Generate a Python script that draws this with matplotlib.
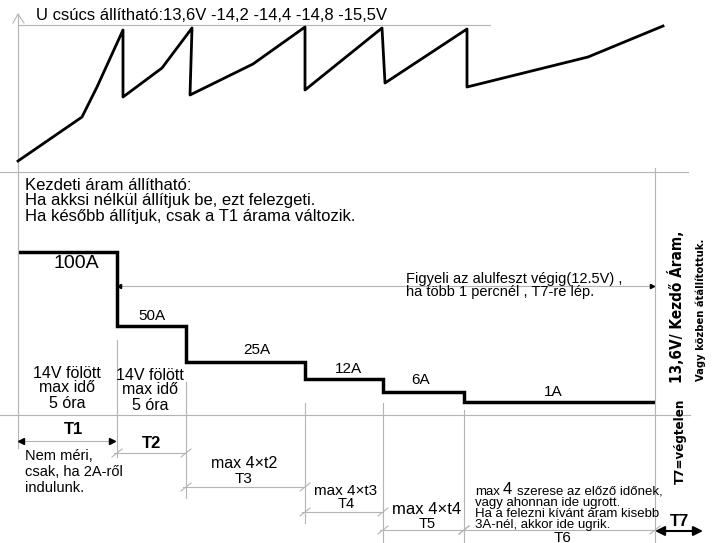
import matplotlib.pyplot as plt

plt.rcParams['font.family'] = ['Liberation Sans', 'DejaVu Sans']

# charging voltage curve (x = time position, y = drawing height, top = 0)
u_x = [18, 82, 97, 123, 123, 162, 192, 190, 253, 305, 305, 382, 385, 467, 467, 588, 663]
u_y = [161, 117, 87, 30, 97, 68, 28, 95, 64, 27, 90, 28, 83, 29, 87, 57, 26]

# current steps
t_edges = [18, 117, 186, 305, 383, 464, 655]
i_level = [252, 326, 362, 379, 392, 402]
i_labels = ['100A', '50A', '25A', '12A', '6A', '1A']
i_label_size = [14, 11, 11, 11, 11, 11]

# phase dimension lines
dim_y = [441, 453, 487, 512, 530, 530]
dim_names = ['T1', 'T2', 'T3', 'T4', 'T5', 'T6']
dim_notes = ['', '', 'max 4×t2', 'max 4×t3', 'max 4×t4', '']

gray = '#b4b4b4'


def lines(x, ys, texts, **kw):
    for y, s in zip(ys, texts):
        ax.text(x, y, s, va='center', **kw)


fig = plt.figure(figsize=(7.15, 5.43), dpi=100)
ax = fig.add_axes([0, 0, 1, 1])
ax.set_xlim(0, 715)
ax.set_ylim(543, 0)
ax.axis('off')

# frame lines
ax.plot([18, 18], [14, 448], color=gray, lw=0.8)
ax.plot([13, 18, 24], [23, 14, 23], color=gray, lw=0.8)
ax.plot([18, 490], [25, 25], color=gray, lw=0.8)
ax.plot([0, 688], [172, 172], color=gray, lw=0.8)
ax.plot([0, 690], [415, 415], color=gray, lw=0.8)
ax.plot([655, 655], [168, 543], color=gray, lw=0.8)

# phase separators
sep_top = [340, 382, 403, 403, 410]
sep_bot = [457, 498, 523, 543, 543]
for x, a, b in zip(t_edges[1:6], sep_top, sep_bot):
    ax.plot([x, x], [a, b], color=gray, lw=0.8)

# voltage
ax.plot(u_x, u_y, color='black', lw=2)
ax.text(36, 16, 'U csúcs állítható:13,6V -14,2 -14,4 -14,8 -15,5V', fontsize=12, va='center')

# current
ax.stairs(i_level, t_edges, baseline=None, color='black', lw=2.5)
lab_x = [76, 152, 257, 348, 421, 553]
lab_y = [264, 316, 350, 369, 380, 392]
for x, y, s, fs in zip(lab_x, lab_y, i_labels, i_label_size):
    ax.text(x, y, s, fontsize=fs, ha='center', va='center')

lines(25, [185, 201, 217], ['Kezdeti áram állítható:',
                            'Ha akksi nélkül állítjuk be, ezt felezgeti.',
                            'Ha később állítjuk, csak a T1 árama változik.'], fontsize=12)

ax.plot([119, 652], [286, 286], color=gray, lw=0.8)
ax.plot([119], [286], marker='<', color='black', ms=3)
ax.plot([652], [286], marker='>', color='black', ms=3)
lines(406, [279, 292], ['Figyeli az alulfeszt végig(12.5V) ,',
                        'ha több 1 percnél , T7-re lép.'], fontsize=10.5)

col_txt = ['14V fölött', 'max idő', '5 óra']
lines(67, [373, 388, 403], col_txt, fontsize=11.5, ha='center')
lines(150, [376, 390, 405], col_txt, fontsize=11.5, ha='center')

# T1 arrow
ax.plot([22, 111], [dim_y[0]] * 2, color=gray, lw=0.8)
ax.plot([21], [dim_y[0]], marker='<', color='black', ms=4)
ax.plot([112], [dim_y[0]], marker='>', color='black', ms=4)
ax.text(74, 430, dim_names[0], fontsize=12, fontweight='bold', ha='center', va='center')
lines(25, [456, 472, 488], ['Nem méri,', 'csak, ha 2A-ről', 'indulunk.'], fontsize=10.5)

# T2..T6 dimension lines with slash ticks
for k in range(1, 6):
    a, b, y = t_edges[k], t_edges[k + 1], dim_y[k]
    ax.plot([a - 3, b], [y, y], color=gray, lw=0.8)
    for x in (a, b):
        ax.plot([x - 5, x + 5], [y + 4, y - 4], color=gray, lw=0.8)

ax.text(152, 443, 'T2', fontsize=12, fontweight='bold', ha='center', va='center')
ax.text(244, 464, dim_notes[2], fontsize=11.5, ha='center', va='center')
ax.text(244, 479, dim_names[2], fontsize=11, ha='center', va='center')
ax.text(346, 491, dim_notes[3], fontsize=11, ha='center', va='center')
ax.text(346, 504, dim_names[3], fontsize=10.5, ha='center', va='center')
ax.text(427, 510, dim_notes[4], fontsize=12, ha='center', va='center')
ax.text(427, 524, dim_names[4], fontsize=10.5, ha='center', va='center')
ax.text(563, 538, dim_names[5], fontsize=11, ha='center', va='center')

ax.text(475, 492, 'max', fontsize=9.5, va='center')
ax.text(503, 490, '4', fontsize=12, va='center')
ax.text(517, 492, 'szerese az előző időnek,', fontsize=9.5, va='center')
lines(475, [503, 514, 525], ['vagy ahonnan ide ugrott.',
                             'Ha a felezni kívánt áram kisebb',
                             '3A-nél, akkor ide ugrik.'], fontsize=9.5)

# T7
ax.annotate('', xy=(655, 531), xytext=(703, 531),
            arrowprops=dict(arrowstyle='<|-|>', color='black', lw=1.5, mutation_scale=14,
                            shrinkA=0, shrinkB=0))
ax.text(679, 521, 'T7', fontsize=12, fontweight='bold', ha='center', va='center')

rot = dict(fontweight='bold', rotation=90, ha='center', va='center',
           family='DejaVu Sans', fontstretch='condensed')
ax.text(677, 307, '13,6V/ Kezdő Áram,', fontsize=11, **rot)
ax.text(701, 310, 'Vagy közben átállítottuk.', fontsize=8, **rot)
ax.text(680, 441, 'T7=végtelen', fontsize=9.5, **rot)

plt.savefig('out.png', dpi=100)
